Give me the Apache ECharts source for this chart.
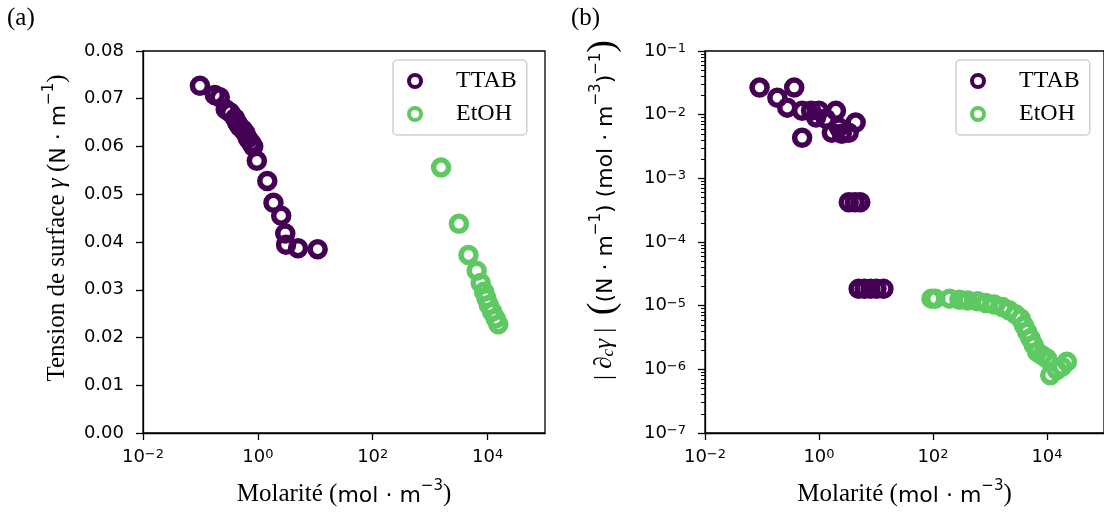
<!DOCTYPE html>
<html><head><meta charset="utf-8">
<script src="https://cdn.jsdelivr.net/npm/echarts@6/dist/echarts.min.js"></script>
<style>html,body{margin:0;padding:0;background:#fff}#c{width:1104px;height:515px}</style>
</head><body><div id="c"></div>
<script>
// ---------- data ----------
const seriesNames = ['TTAB', 'EtOH'];

// panel (a): surface tension vs molarity
const ttabConcA = [0.098, 0.178, 0.217, 0.275, 0.33, 0.40, 0.44, 0.48, 0.55, 0.61, 0.67, 0.77, 0.83, 0.96, 1.46, 1.87, 2.55, 3.0, 3.1, 5.0, 11.0];
const ttabTensionA = [0.0727, 0.0708, 0.0703, 0.0678, 0.0671, 0.0659, 0.0649, 0.0642, 0.0635, 0.0628, 0.0617, 0.0607, 0.0600, 0.0570, 0.0528, 0.0482, 0.0455, 0.0418, 0.0394, 0.0387, 0.0385];
const etohConcA = [1550, 3170, 4650, 6460, 7590, 8700, 9540, 10500, 12000, 13800, 15400];
const etohTensionA = [0.0556, 0.0438, 0.0373, 0.0340, 0.0314, 0.0296, 0.0282, 0.0268, 0.0254, 0.0240, 0.0228];

// panel (b): |d gamma / dc| vs molarity
const ttabConcB = [0.0906, 0.186, 0.367, 0.277, 0.506, 0.726, 0.887, 1.0, 1.32, 1.98, 2.23, 2.51, 1.68, 4.40, 3.32, 0.506, 3.33, 4.25, 5.3, 4.96, 6.3, 8.0, 10.2, 13.5];
const ttabDerivB = [0.0266, 0.0184, 0.0266, 0.0129, 0.0115, 0.0115, 0.0090, 0.0115, 0.0086, 0.0115, 0.0063, 0.0050, 0.0052, 0.0075, 0.0052, 0.00433, 4.2e-4, 4.2e-4, 4.2e-4, 1.85e-5, 1.85e-5, 1.85e-5, 1.85e-5, 1.85e-5];
const etohConcB = [94, 110, 195, 290, 405, 605, 845, 1180, 1650, 2150, 2800, 3440, 3930, 4480, 5130, 5860, 6720, 8200, 10000, 11400, 14900, 18200, 22300];
const etohDerivB = [1.29e-5, 1.29e-5, 1.29e-5, 1.24e-5, 1.21e-5, 1.17e-5, 1.10e-5, 1.04e-5, 9.5e-6, 8.45e-6, 7.3e-6, 6.3e-6, 4.9e-6, 3.9e-6, 3.04e-6, 2.4e-6, 1.88e-6, 1.67e-6, 1.48e-6, 8.1e-7, 9.8e-7, 1.1e-6, 1.32e-6];

// tick labels
const xTicks = [0.01, 1, 100, 10000];
const yTicksA = [0, 0.01, 0.02, 0.03, 0.04, 0.05, 0.06, 0.07, 0.08];
const yTicksB = [1e-7, 1e-6, 1e-5, 1e-4, 1e-3, 1e-2, 1e-1];
const yMinorTicksB = [];
for (let e = -7; e < -1; e++) for (let m = 2; m <= 9; m++) yMinorTicksB.push(m * Math.pow(10, e));

// ---------- styling ----------
const SANS = '"DejaVu Sans", "Liberation Sans", sans-serif';
const SERIF = '"Liberation Serif", "DejaVu Serif", serif';
const PURPLE = '#440154', GREEN = '#5ec962';
const zip = (xs, ys) => xs.map((x, i) => [x, ys[i]]);

function pow10Label(v) {
  const e = Math.round(Math.log10(v));
  return '{b|10}{s|' + (e < 0 ? '\u2212' + (-e) : e) + '}';
}
const powRich = {
  b: { fontFamily: SANS, fontSize: 18, color: '#000', lineHeight: 18, padding: [6, 0, 0, 0], verticalAlign: 'bottom' },
  s: { fontFamily: SANS, fontSize: 13, color: '#000', lineHeight: 13, verticalAlign: 'top' }
};
const nameRich = {
  s: { fontFamily: SERIF, fontSize: 25, color: '#000', lineHeight: 28, verticalAlign: 'bottom' },
  g: { fontFamily: SERIF, fontSize: 25, fontStyle: 'italic', color: '#000', lineHeight: 28, verticalAlign: 'bottom' },
  n: { fontFamily: SANS, fontSize: 22, color: '#000', lineHeight: 26, verticalAlign: 'bottom' },
  p: { fontFamily: SANS, fontSize: 15, color: '#000', lineHeight: 15, verticalAlign: 'top' },
  c: { fontFamily: SERIF, fontSize: 17, fontStyle: 'italic', color: '#000', lineHeight: 17, verticalAlign: 'bottom' },
  B: { fontFamily: SERIF, fontSize: 38, color: '#000', lineHeight: 26, verticalAlign: 'middle' }
};

const axisLine = { show: true, onZero: false, lineStyle: { color: '#000', width: 1.3 } };
const tickStyle = { color: '#000', width: 1.3 };

function logX(gridIndex) {
  return {
    type: 'log', logBase: 10, gridIndex, min: 0.01, max: 1e5,
    axisLine,
    axisTick: { show: true, length: 7, lineStyle: tickStyle, customValues: xTicks },
    axisLabel: { show: true, customValues: xTicks, formatter: pow10Label, rich: powRich, margin: 15 },
    minorTick: { show: false }, splitLine: { show: false },
    name: '{s|Molarité (}{n|mol · m}{p|\u22123}{s|)}',
    nameLocation: 'middle', nameGap: 46,
    nameTextStyle: { rich: nameRich }
  };
}

const markerStyle = (c) => ({ color: 'rgba(255,255,255,0)', borderColor: c, borderWidth: 5.5, opacity: 1 });

const option = {
  animation: false,
  backgroundColor: '#fff',
  grid: [
    { left: 143, top: 51, width: 402, height: 382, show: true, borderColor: '#000', borderWidth: 1.3, backgroundColor: 'transparent' },
    { left: 705, top: 51, width: 402.5, height: 382, show: true, borderColor: '#000', borderWidth: 1.3, backgroundColor: 'transparent' }
  ],
  xAxis: [logX(0), logX(1)],
  yAxis: [
    {
      type: 'value', gridIndex: 0, min: 0, max: 0.08, interval: 0.01,
      axisLine,
      axisTick: { show: true, length: 7, lineStyle: tickStyle, customValues: yTicksA },
      axisLabel: { customValues: yTicksA, formatter: v => v.toFixed(2), fontFamily: SANS, fontSize: 18, color: '#000', margin: 19 },
      splitLine: { show: false }
    },
    {
      type: 'log', logBase: 10, gridIndex: 1, min: 1e-7, max: 1e-1,
      axisLine,
      axisTick: { show: true, length: 7, lineStyle: tickStyle, customValues: yTicksB },
      axisLabel: { customValues: yTicksB, formatter: pow10Label, rich: powRich, margin: 19 },
      splitLine: { show: false }
    },
    {
      type: 'log', logBase: 10, gridIndex: 1, min: 1e-7, max: 1e-1, position: 'left',
      axisLine: { show: false },
      axisTick: { show: true, length: 4, lineStyle: { color: '#000', width: 1 }, customValues: yMinorTicksB },
      axisLabel: { show: false },
      splitLine: { show: false }
    }
  ],
  legend: [0, 1].map(i => ({
    left: i === 0 ? 393 : 956, top: 60, orient: 'vertical',
    data: seriesNames, selectedMode: false,
    itemWidth: 30, itemHeight: 12, itemGap: 9,
    padding: [9, 10, 9, 14],
    borderColor: '#d0d0d0', borderWidth: 1.5, borderRadius: 4,
    backgroundColor: '#fff',
    itemStyle: { borderWidth: 4 },
    textStyle: { fontFamily: SERIF, fontSize: 24, color: '#000', padding: [0, 0, 0, 21], lineHeight: 22 }
  })),
  series: [
    { type: 'scatter', name: 'TTAB', xAxisIndex: 0, yAxisIndex: 0, data: zip(ttabConcA, ttabTensionA), symbol: 'circle', symbolSize: 15, itemStyle: markerStyle(PURPLE) },
    { type: 'scatter', name: 'EtOH', xAxisIndex: 0, yAxisIndex: 0, data: zip(etohConcA, etohTensionA), symbol: 'circle', symbolSize: 15, itemStyle: markerStyle(GREEN) },
    { type: 'scatter', name: 'TTAB', xAxisIndex: 1, yAxisIndex: 1, data: zip(ttabConcB, ttabDerivB), symbol: 'circle', symbolSize: 15, itemStyle: markerStyle(PURPLE) },
    { type: 'scatter', name: 'EtOH', xAxisIndex: 1, yAxisIndex: 1, data: zip(etohConcB, etohDerivB), symbol: 'circle', symbolSize: 15, itemStyle: markerStyle(GREEN) }
  ],
  graphic: [
    { type: 'text', left: 7, top: 6, style: { text: '(a)', font: '25px ' + SERIF, fill: '#000' } },
    { type: 'text', left: 571, top: 6, style: { text: '(b)', font: '25px ' + SERIF, fill: '#000' } },
    {
      type: 'text', x: 56, y: 228, rotation: Math.PI / 2,
      style: { text: '{s|Tension de surface }{g|γ}{s| (}{n|N · m}{p|\u22121}{s|)}', rich: nameRich, align: 'center', verticalAlign: 'middle' }
    },
    {
      type: 'text', x: 603, y: 210, rotation: Math.PI / 2,
      style: { text: '{s|| }{g|∂}{c|c}{g|γ}{s| |  }{B|(}{n|(N · m}{p|\u22121}{n|) (mol · m}{p|\u22123}{n|)}{p|\u22121}{B|)}', rich: nameRich, align: 'center', verticalAlign: 'middle' }
    }
  ]
};

const chart = echarts.init(document.getElementById('c'), null, { renderer: 'canvas' });
chart.setOption(option);
</script>
</body></html>
